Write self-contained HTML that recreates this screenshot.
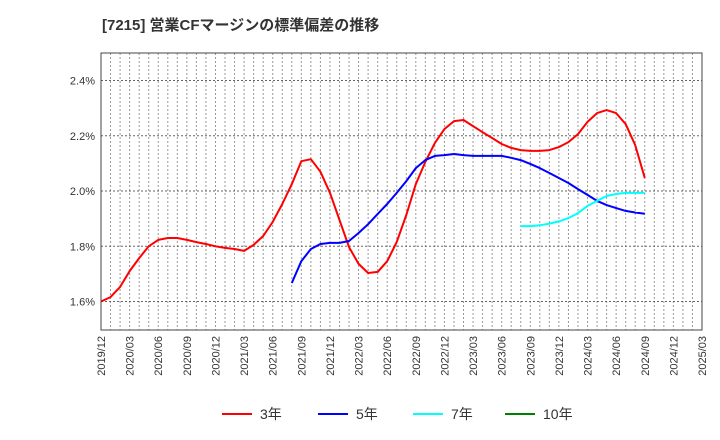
<!DOCTYPE html>
<html><head><meta charset="utf-8"><style>
body{margin:0;background:#fff;}
svg{display:block;font-family:"Liberation Sans","Noto Sans CJK JP",sans-serif;}
</style></head><body>
<svg id="chart" width="720" height="440" xmlns="http://www.w3.org/2000/svg">
<text x="102" y="30" font-size="15" font-weight="bold" fill="#333">[7215]  営業CFマージンの標準偏差の推移</text>
<g id="grid"></g>
<g id="series"></g>
<rect x="101" y="53" width="601" height="277" fill="none" stroke="#444" stroke-width="1"/>
<g id="axes"></g>
<g id="legend"></g>
</svg>
<script>
const yTicks=[1.6,1.8,2.0,2.2,2.4];
const xTickLabels=["2019/12","2020/03","2020/06","2020/09","2020/12","2021/03","2021/06","2021/09","2021/12","2022/03","2022/06","2022/09","2022/12","2023/03","2023/06","2023/09","2023/12","2024/03","2024/06","2024/09","2024/12","2025/03"];
const s3=[1.60,1.616,1.653,1.71,1.757,1.80,1.823,1.83,1.83,1.823,1.815,1.808,1.80,1.794,1.79,1.783,1.805,1.837,1.888,1.953,2.025,2.108,2.115,2.07,1.993,1.895,1.797,1.736,1.703,1.707,1.746,1.815,1.913,2.025,2.105,2.174,2.224,2.253,2.257,2.235,2.213,2.192,2.17,2.156,2.148,2.145,2.145,2.148,2.159,2.177,2.206,2.25,2.282,2.293,2.282,2.242,2.166,2.047];
const s5Start=20;
const s5=[1.667,1.746,1.79,1.808,1.812,1.812,1.819,1.848,1.88,1.917,1.953,1.993,2.036,2.083,2.112,2.127,2.13,2.134,2.13,2.127,2.127,2.127,2.127,2.12,2.112,2.098,2.083,2.065,2.047,2.029,2.007,1.986,1.964,1.949,1.938,1.928,1.922,1.918];
const s7Start=44;
const s7=[1.873,1.873,1.876,1.882,1.89,1.902,1.92,1.946,1.964,1.982,1.989,1.993,1.993,1.993];
const s10=[];
const legendLabels=["3年","5年","7年","10年"];
const colors=["#ff0000","#0000ff","#00ffff","#008000"];

const NS="http://www.w3.org/2000/svg";
const L=101,R=702,T=53,B=330,months=63;
const xs=i=>L+i*(R-L)/months;
const ys=v=>191-(v-2.0)*276.25;
function mk(tag,attrs,parent){const e=document.createElementNS(NS,tag);for(const k in attrs)e.setAttribute(k,attrs[k]);parent.appendChild(e);return e;}
const grid=document.getElementById('grid'),axes=document.getElementById('axes'),series=document.getElementById('series'),legend=document.getElementById('legend');
for(let m=1;m<months;m++){
  const l=mk('line',{x1:xs(m),x2:xs(m),y1:T,y2:B,stroke:'#999','stroke-dasharray':'2,2','stroke-width':1},grid);
  
  
}
yTicks.forEach(v=>{
  const l=mk('line',{x1:L,x2:R,y1:ys(v),y2:ys(v),stroke:'#666','stroke-dasharray':'2,2','stroke-width':1},grid);
  
  
  const t=mk('text',{x:L-6,y:ys(v)+4,'text-anchor':'end','font-size':11,fill:'#333'},axes);
  t.textContent=v.toFixed(1)+'%';
  
  
});
xTickLabels.forEach((s,i)=>{
  const x=xs(i*3);
  const t=mk('text',{x:x+4,y:B+6,'text-anchor':'end','font-size':11,fill:'#333',transform:`rotate(-90 ${x+4} ${B+6})`},axes);
  t.textContent=s;
  
  
});
function line(vals,start,color,name){
  if(!vals.length)return;
  const pts=vals.map((v,i)=>xs(start+i).toFixed(1)+','+ys(v).toFixed(1)).join(' ');
  const p=mk('polyline',{points:pts,fill:'none',stroke:color,'stroke-width':2,'stroke-linejoin':'round'},series);
  
  
}
line(s3,0,colors[0],'series-3y');
line(s5,s5Start,colors[1],'series-5y');
line(s7,s7Start,colors[2],'series-7y');
line(s10,0,colors[3],'series-10y');
const lx=[222,318,413,505];
legendLabels.forEach((s,i)=>{
  const g=mk('g',{},legend);
  
  
  mk('line',{x1:lx[i],x2:lx[i]+30,y1:414,y2:414,stroke:colors[i],'stroke-width':2},g);
  const t=mk('text',{x:lx[i]+38,y:419,'font-size':14,fill:'#333'},g);
  t.textContent=s;
});
</script>
</body></html>
